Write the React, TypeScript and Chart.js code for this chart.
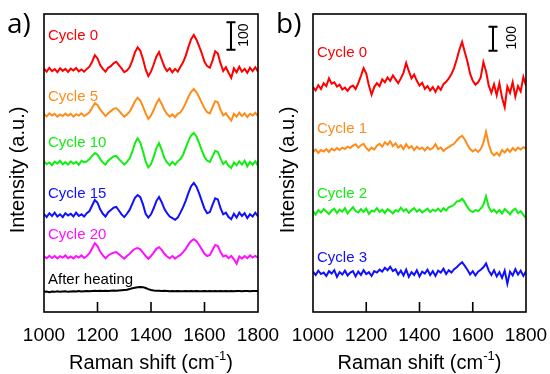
import React, { useEffect, useRef } from "react";
import { Chart, registerables } from "chart.js";
Chart.register(...registerables);

// Raman shift axis (cm^-1)
const ramanShift = [
  1000, 1010, 1020, 1030, 1040, 1050, 1060, 1070, 1080, 1090,
  1100, 1110, 1120, 1130, 1140, 1150, 1160, 1170, 1180, 1190,
  1200, 1210, 1220, 1230, 1240, 1250, 1260, 1270, 1280, 1290,
  1300, 1310, 1320, 1330, 1340, 1350, 1360, 1370, 1380, 1390,
  1400, 1410, 1420, 1430, 1440, 1450, 1460, 1470, 1480, 1490,
  1500, 1510, 1520, 1530, 1540, 1550, 1560, 1570, 1580, 1590,
  1600, 1610, 1620, 1630, 1640, 1650, 1660, 1670, 1680, 1690,
  1700, 1710, 1720, 1730, 1740, 1750, 1760, 1770, 1780, 1790, 1800,
];
const xTicks = [1000, 1200, 1400, 1600, 1800];

// ---- Panel a) intensities (a.u., relative to each trace's own baseline)
const aCycle0 = [
  5, -6, 8, -4, 3, -8, 6, -3, 4, -7, 5, -2, 7, -5, 2, -6, 4, 12, 30, 54,
  42, 18, 4, -6, 8, 14, 24, 30, 18, 6, -8, -2, 10, 34, 64, 82, 70, 40, 2, -22,
  -6, 20, 48, 65, 38, 12, -4, 6, -8, 4, -6, 12, 28, 52, 84, 112, 127, 110, 86, 60,
  30, 14, 8, 34, 68, 60, 24, -4, 10, -10, -28, 6, -8, 12, -6, 4, -10, 8, -4, 10, -6,
];
const aCycle5 = [
  3, -5, 6, -2, 4, -6, 2, -4, 5, -3, 4, -6, 3, -2, 6, -4, 2, 10, 26, 43,
  36, 20, 8, -4, 6, 14, 22, 25, 16, 4, -6, 2, 12, 30, 50, 62, 52, 30, 6, -14,
  -2, 18, 42, 58, 40, 18, 4, -6, 2, -8, 4, 10, 24, 44, 66, 84, 94, 82, 64, 44,
  24, 10, 6, 28, 50, 46, 18, -2, 6, -8, -20, 4, -6, 8, -4, 6, -8, 4, -2, 8, -4,
];
const aCycle10 = [
  6, -4, 2, -8, 5, -2, 8, -5, 3, -6, 6, -3, 4, -7, 8, 2, 6, 14, 26, 36,
  30, 14, 2, -6, 8, 16, 24, 26, 14, 4, -6, 4, 16, 40, 72, 90, 74, 42, 6, -16,
  -4, 22, 54, 72, 48, 18, 2, -8, 4, -6, 6, 14, 30, 56, 80, 100, 109, 96, 72, 46,
  22, 8, 4, 24, 44, 40, 16, -4, 6, -10, -18, 2, -8, 6, -6, 8, -12, 4, -6, 6, -10,
];
const aCycle15 = [
  4, -8, 6, -4, 8, -6, 2, -8, 6, -2, 4, -6, 8, -4, 2, -6, 6, 14, 34, 54,
  44, 20, 4, -6, 10, 18, 26, 29, 16, 2, -8, 4, 18, 40, 62, 72, 64, 38, 4, -10,
  2, 24, 50, 65, 46, 22, 6, -6, -12, -18, -10, 8, 28, 52, 80, 104, 116, 102, 78, 50,
  22, 6, 10, 36, 60, 56, 24, 2, 8, -8, -16, 4, -10, 8, -4, 6, -12, 2, -6, 8, -6,
];
const aCycle20 = [
  2, -4, 5, -3, 4, -5, 3, -2, 6, -4, 2, -5, 4, -2, 6, -3, 4, 14, 32, 50,
  40, 20, 6, -4, 6, 12, 16, 18, 10, 2, -6, 4, 12, 22, 30, 33, 28, 16, 4, -6,
  4, 16, 30, 36, 26, 12, 2, -4, 4, -6, 2, 8, 18, 30, 46, 58, 65, 58, 44, 28,
  12, 4, 8, 26, 44, 40, 18, 2, 6, -4, 4, -8, -24, 2, -6, 4, -4, 6, -2, 4, -2,
];
const aAfterHeating = [
  -3, -2, -4, -2, -3, -1, -3, -2, -1, -3, -2, -1, -2, 0, -2, -1, 0, -1, 0, 1,
  0, 1, 0, 1, 0, 1, 2, 1, 2, 3, 4, 5, 7, 10, 12, 14, 15, 14, 11, 7,
  4, 2, 1, 1, 0, 1, 0, -1, 0, -1, 0, -1, -1, 0, -1, 0, -1, 0, -1, -1,
  0, -1, 0, -1, 0, -1, 0, -1, 0, -1, 0, -1, 0, 0, -1, 0, 0, -1, 0, 0, 0,
];
const aNames = ["Cycle 0", "Cycle 5", "Cycle 10", "Cycle 15", "Cycle 20", "After heating"];
const aOffsets = [877, 714, 540, 352, 199, 76];
const aSeries = [aCycle0, aCycle5, aCycle10, aCycle15, aCycle20, aAfterHeating];

// ---- Panel b) intensities
const bCycle0 = [
  4, -10, 12, -4, 20, 8, 40, 18, 24, 6, 14, -6, 2, -12, 4, 10, -4, 20, 50, 83,
  60, 10, -28, 4, 20, 8, 36, 24, 44, 30, 52, 36, 20, 40, 64, 104, 70, 40, 56, 30,
  10, 22, -4, 8, -10, 4, -16, 6, -8, 16, 26, 40, 58, 84, 120, 160, 192, 150, 110, 60,
  30, 14, 24, 44, 108, 70, 10, -20, 16, -30, 20, -40, -80, 6, -20, 24, -36, 8, -14, 46, 10,
];
const bCycle1 = [
  -4, 6, -8, 4, -2, 8, -4, 10, 2, 12, 4, 14, 8, 18, 12, 22, 28, 14, 24, 30,
  12, 2, 14, 6, 22, 30, 18, 36, 26, 40, 20, 32, 14, 24, 8, 28, 12, 20, 4, 18,
  8, 14, 2, 16, 6, 12, 28, 8, 14, 0, 10, 16, 24, 30, 44, 56, 63, 48, 26, 8,
  -2, 6, -4, 8, 34, 80, 28, -6, -18, -8, -20, 4, -6, 8, -4, 12, 2, 14, 6, 16, 10,
];
const bCycle2 = [
  4, -10, 8, -2, 12, 2, -8, 6, 14, -4, 10, 2, 16, -6, 8, 20, 4, -2, 12, 0,
  14, -8, 6, 2, 16, 0, 10, -4, 12, 4, -6, 8, 2, 18, 4, 12, -4, 8, 16, 2,
  10, -2, 6, 14, 0, 10, 4, 14, 2, 16, 6, 20, 24, 30, 44, 46, 55, 40, 20, 6,
  0, 8, 4, 14, 30, 65, 20, 2, 10, -4, 8, -6, 12, 2, -10, 6, 14, -4, 4, -12, -26,
];
const bCycle3 = [
  6, -8, 10, -4, 2, -12, 8, -2, 12, -16, 4, -6, 10, -10, 2, 8, -14, 6, -8, 12,
  -4, 4, -12, 8, 2, 14, 6, 22, 12, 26, 8, 16, -6, 10, -10, 14, -16, 4, -8, 12,
  -14, 6, -2, 14, -8, 8, -12, 10, 2, 18, -4, 12, 2, 16, 24, 36, 45, 30, 14, -6,
  8, -10, 6, 14, 24, 40, 10, -8, 12, -14, 4, -20, 10, -44, 6, -10, 16, -6, 10, -12, 8,
];
const bNames = ["Cycle 0", "Cycle 1", "Cycle 2", "Cycle 3"];
const bOffsets = [932, 670, 416, 162];
const bSeries = [bCycle0, bCycle1, bCycle2, bCycle3];

const aColors = ["#ff0000", "#ff8c1a", "#11ee11", "#1010ff", "#ff10ff", "#000000"];
const bColors = ["#ff0000", "#ff8c1a", "#11ee11", "#1010ff"];

const SANS = "'Liberation Sans', Arial, sans-serif";

type PanelCfg = {
  letter: string;
  names: string[];
  offsets: number[];
  series: number[][];
  colors: string[];
  yMax: number;
  padLeft: number;
  padRight: number;
  labelX: number;
  labelY: number[];
  barX: number;
  barY0: number;
  barTextX: number;
  letterX: number;
  yTitleX: number;
};

const panelA: PanelCfg = {
  letter: "a)",
  names: aNames,
  offsets: aOffsets,
  series: aSeries,
  colors: aColors,
  yMax: 1080,
  padLeft: 44,
  padRight: 292,
  labelX: 1015,
  labelY: [1000, 779, 612, 428, 279, 116],
  barX: 1699,
  barY0: 950,
  barTextX: 1750,
  letterX: 7,
  yTitleX: 18,
};

const panelB: PanelCfg = {
  letter: "b)",
  names: bNames,
  offsets: bOffsets,
  series: bSeries,
  colors: bColors,
  yMax: 1240,
  padLeft: 313,
  padRight: 24,
  labelX: 1015,
  labelY: [1078, 761, 491, 225],
  barX: 1676,
  barY0: 1087,
  barTextX: 1749,
  letterX: 276,
  yTitleX: 288,
};

function makeDecor(cfg: PanelCfg) {
  return {
    id: "decor",
    afterDraw(chart: any) {
      const ctx = chart.ctx as CanvasRenderingContext2D;
      const area = chart.chartArea;
      const xs = chart.scales.x;
      const ys = chart.scales.y;
      ctx.save();
      // frame
      ctx.strokeStyle = "#000";
      ctx.lineWidth = 1.6;
      ctx.strokeRect(area.left, area.top, area.right - area.left, area.bottom - area.top);
      // inner ticks
      xTicks.slice(1, -1).forEach((t) => {
        const px = xs.getPixelForValue(t);
        ctx.beginPath();
        ctx.moveTo(px, area.bottom);
        ctx.lineTo(px, area.bottom - 10);
        ctx.stroke();
      });
      // series labels
      ctx.font = `15px ${SANS}`;
      ctx.textBaseline = "middle";
      ctx.textAlign = "left";
      cfg.names.forEach((n, i) => {
        ctx.fillStyle = cfg.colors[i];
        ctx.fillText(n, xs.getPixelForValue(cfg.labelX), ys.getPixelForValue(cfg.labelY[i]));
      });
      // scale bar (100 a.u.)
      const bx = xs.getPixelForValue(cfg.barX);
      const by0 = ys.getPixelForValue(cfg.barY0);
      const by1 = ys.getPixelForValue(cfg.barY0 + 100);
      ctx.strokeStyle = "#000";
      ctx.lineWidth = 2;
      ctx.beginPath();
      ctx.moveTo(bx, by0);
      ctx.lineTo(bx, by1);
      ctx.moveTo(bx - 4.5, by0);
      ctx.lineTo(bx + 4.5, by0);
      ctx.moveTo(bx - 4.5, by1);
      ctx.lineTo(bx + 4.5, by1);
      ctx.stroke();
      ctx.save();
      ctx.translate(xs.getPixelForValue(cfg.barTextX), (by0 + by1) / 2 - 1);
      ctx.rotate(-Math.PI / 2);
      ctx.fillStyle = "#000";
      ctx.font = `14px ${SANS}`;
      ctx.textAlign = "center";
      ctx.textBaseline = "middle";
      ctx.fillText("100", 0, 0);
      ctx.restore();
      // y title
      ctx.save();
      ctx.translate(cfg.yTitleX, 170);
      ctx.rotate(-Math.PI / 2);
      ctx.fillStyle = "#000";
      ctx.font = `20px ${SANS}`;
      ctx.textAlign = "center";
      ctx.textBaseline = "middle";
      ctx.fillText("Intensity (a.u.)", 0, 0);
      ctx.restore();
      // x title with superscript
      ctx.fillStyle = "#000";
      ctx.textBaseline = "alphabetic";
      ctx.textAlign = "left";
      const main = "Raman shift (cm";
      const sup = "-1";
      const end = ")";
      ctx.font = `20px ${SANS}`;
      const w1 = ctx.measureText(main).width;
      const w3 = ctx.measureText(end).width;
      ctx.font = `13px ${SANS}`;
      const w2 = ctx.measureText(sup).width;
      const total = w1 + w2 + w3;
      const x0 = (area.left + area.right) / 2 - total / 2;
      const base = 369;
      ctx.font = `20px ${SANS}`;
      ctx.fillText(main, x0, base);
      ctx.font = `13px ${SANS}`;
      ctx.fillText(sup, x0 + w1, base - 9);
      ctx.font = `20px ${SANS}`;
      ctx.fillText(end, x0 + w1 + w2, base);
      // panel letter
      ctx.font = `28px 'Open Sans', ${SANS}`;
      ctx.fillText(cfg.letter, cfg.letterX, 33);
      ctx.restore();
    },
  };
}

function Panel({ cfg }: { cfg: PanelCfg }) {
  const ref = useRef<HTMLCanvasElement | null>(null);
  useEffect(() => {
    if (!ref.current) return;
    const datasets = cfg.series.map((s, i) => ({
      label: cfg.names[i],
      data: s.map((v, j) => ({ x: ramanShift[j], y: v + cfg.offsets[i] })),
      borderColor: cfg.colors[i],
      backgroundColor: cfg.colors[i],
      borderWidth: 2,
      pointRadius: 0,
      tension: 0,
      fill: false,
    }));
    const chart = new Chart(ref.current, {
      type: "line",
      data: { datasets },
      options: {
        responsive: false,
        animation: false,
        devicePixelRatio: 1,
        parsing: false,
        layout: { padding: { left: cfg.padLeft, right: cfg.padRight, top: 14, bottom: 0 } },
        plugins: { legend: { display: false }, tooltip: { enabled: false } },
        scales: {
          x: {
            type: "linear",
            min: 1000,
            max: 1800,
            afterBuildTicks: (s: any) => {
              s.ticks = xTicks.map((v) => ({ value: v }));
            },
            ticks: {
              color: "#000",
              font: { family: SANS, size: 19 },
              padding: 12,
              maxRotation: 0,
              autoSkip: false,
              callback: (v: any) => String(v),
            },
            grid: { display: false, drawTicks: false },
            border: { display: false },
            afterFit: (s: any) => {
              s.height = 62;
              s.paddingLeft = 0;
              s.paddingRight = 0;
            },
          },
          y: { display: false, min: 0, max: cfg.yMax },
        },
      },
      plugins: [makeDecor(cfg)],
    } as any);
    return () => chart.destroy();
  }, [cfg]);
  return (
    <canvas
      ref={ref}
      width={550}
      height={374}
      style={{ position: "absolute", left: 0, top: 0, width: 550, height: 374 }}
    />
  );
}

export default function App() {
  return (
    <div style={{ position: "absolute", left: 0, top: 0, width: 550, height: 374, background: "#fff" }}>
      <Panel cfg={panelA} />
      <Panel cfg={panelB} />
    </div>
  );
}
